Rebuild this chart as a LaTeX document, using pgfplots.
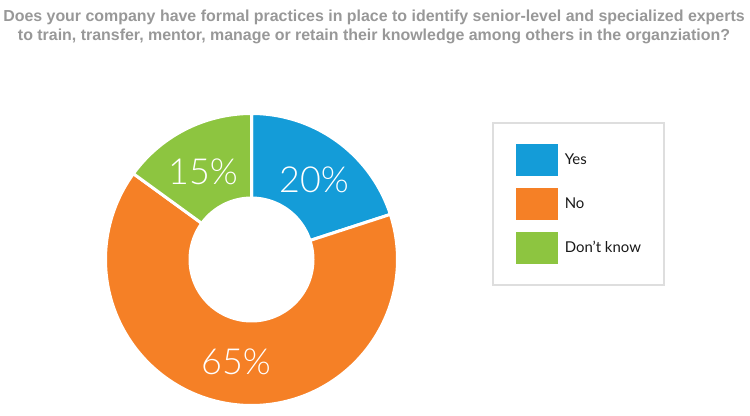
\documentclass[border=0pt]{standalone}
\usepackage{pgfplots}
\pgfplotsset{compat=1.18}
\usepackage{fontspec}
\setmainfont{Liberation Sans}
\newfontfamily\titlefont{Liberation Sans}
\newfontfamily\lightfont{Lato Light}
\newfontfamily\legfont{Lato}
\definecolor{cyes}{HTML}{149CD8}
\definecolor{cno}{HTML}{F58026}
\definecolor{cdk}{HTML}{8DC540}
\definecolor{ctitle}{HTML}{989898}
\def\pYes{20}
\def\pNo{65}
\def\pDk{15}
\begin{document}
\begin{tikzpicture}
\begin{axis}[
  x=1bp, y=1bp,
  xmin=-251.5, xmax=498.5, ymin=-155.5, ymax=259.5,
  hide axis, clip=false,
  legend image code/.code={\fill[#1, draw=none] (0bp,-16bp) rectangle (42bp,16bp);},
  legend style={at={(axis cs:240.5,137.5)}, anchor=north west,
    draw=black!13, line width=1.5bp, fill=white,
    inner xsep=23bp, inner ysep=21bp, row sep=12bp,
    font=\legfont\fontsize{15}{15}\selectfont, text=black!90,
    nodes={inner sep=0pt},
    /tikz/every odd column/.append style={column sep=7bp}},
  legend cell align=left,
]
\path (axis cs:-251.5,-155.5) rectangle (axis cs:498.5,259.5);
\addplot[fill=cyes, draw=white, line width=3bp, samples=80,
  domain={90-3.6*\pYes}:90] ({146*cos(x)},{146*sin(x)}) -- (axis cs:0,0) -- cycle;
\addlegendentry{Yes}
\addplot[fill=cno, draw=white, line width=3bp, samples=160,
  domain={90-3.6*(\pYes+\pNo)}:{90-3.6*\pYes}] ({146*cos(x)},{146*sin(x)}) -- (axis cs:0,0) -- cycle;
\addlegendentry{No}
\addplot[fill=cdk, draw=white, line width=3bp, samples=60,
  domain={90-3.6*(\pYes+\pNo+\pDk)}:{90-3.6*(\pYes+\pNo)}] ({146*cos(x)},{146*sin(x)}) -- (axis cs:0,0) -- cycle;
\addlegendentry{Don’t know}
\addplot[forget plot, fill=white, draw=none, samples=120, domain=0:360] ({63*cos(x)},{63*sin(x)}) -- cycle;
\node[white, font=\lightfont\fontsize{36}{36}\selectfont] at (axis cs:62.5,79.5) {20\%};
\node[white, font=\lightfont\fontsize{36}{36}\selectfont] at (axis cs:-48.5,87.5) {15\%};
\node[white, font=\lightfont\fontsize{36}{36}\selectfont] at (axis cs:-15.5,-102.5) {65\%};
\node[ctitle, font=\titlefont\bfseries\fontsize{16}{16}\selectfont, anchor=base, inner sep=0pt] at (axis cs:122.5,237.5) {Does your company have formal practices in place to identify senior-level and specialized experts};
\node[ctitle, font=\titlefont\bfseries\fontsize{16}{16}\selectfont, anchor=base, inner sep=0pt] at (axis cs:122.5,219.5) {to train, transfer, mentor, manage or retain their knowledge among others in the organziation?};
\end{axis}
\end{tikzpicture}
\end{document}
